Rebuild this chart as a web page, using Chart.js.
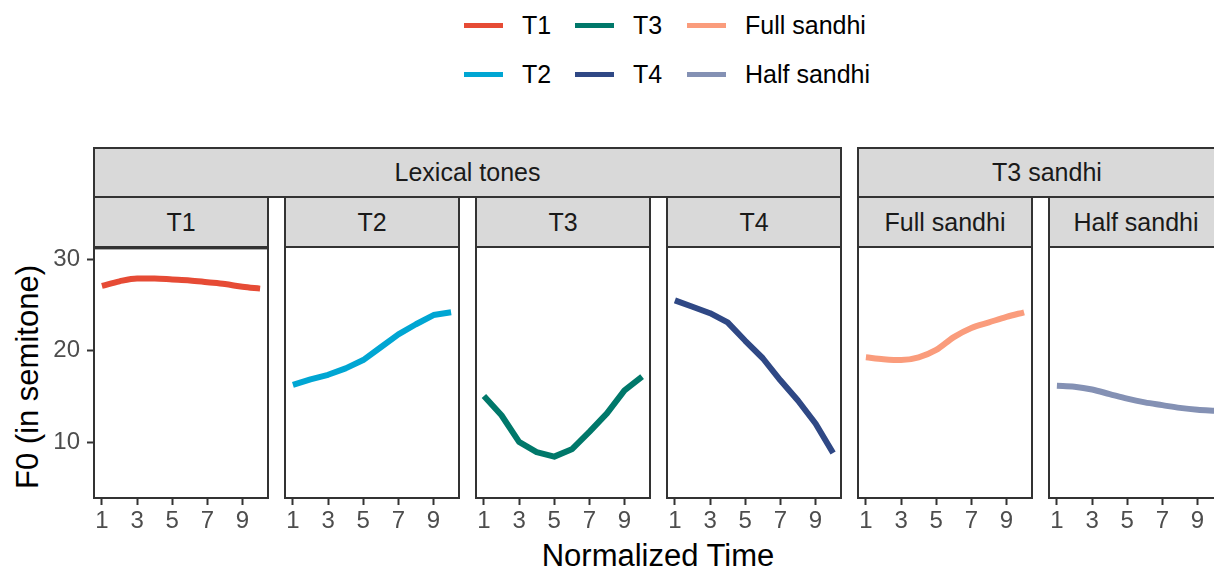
<!DOCTYPE html>
<html>
<head>
<meta charset="utf-8">
<script src="https://cdn.jsdelivr.net/npm/chart.js@4"></script>
<style>
  body { margin: 0; width: 1214px; height: 571px; overflow: hidden; background: #fff;
         position: relative; font-family: "Liberation Sans", Arial, sans-serif; }
  .strip { position: absolute; background: #d9d9d9; border: 2px solid #333; box-sizing: border-box;
           display: flex; align-items: center; justify-content: center; font-size: 25px; color: #1a1a1a; }
  .panel { position: absolute; top: 227px; width: 274px; height: 316px; }
  .legend-item { position: absolute; display: flex; align-items: center; font-size: 25px; color: #000; }
  .legend-item i { display: inline-block; width: 39px; height: 5px; margin-right: 19px; }
  .title { position: absolute; font-size: 31px; color: #000; white-space: nowrap; }
</style>
</head>
<body>

<div class="title" style="left:658px; top:538px; transform:translateX(-50%);">Normalized Time</div>
<div class="title" style="left:28px; top:377px; transform:translate(-50%,-50%) rotate(-90deg);">F0 (in semitone)</div>

<script>
// data
const time = [1, 2, 3, 4, 5, 6, 7, 8, 9, 10];
const T1 = [27.1, 27.6, 27.9, 27.9, 27.8, 27.7, 27.5, 27.3, 27.0, 26.8];
const T2 = [16.2, 16.8, 17.3, 18.0, 18.9, 20.3, 21.7, 22.8, 23.8, 24.1];
const T3 = [15.0, 12.9, 10.0, 8.9, 8.4, 9.2, 11.1, 13.1, 15.6, 17.1];
const T4 = [25.4, 24.7, 24.0, 23.0, 21.0, 19.1, 16.7, 14.5, 12.0, 8.8];
const fullSandhi = [19.2, 19.0, 18.9, 19.2, 20.0, 21.4, 22.4, 23.0, 23.6, 24.1];
const halfSandhi = [16.1, 16.0, 15.7, 15.2, 14.7, 14.3, 14.0, 13.7, 13.5, 13.4];

const seriesNames = ['T1', 'T2', 'T3', 'T4', 'Full sandhi', 'Half sandhi'];
const seriesData = [T1, T2, T3, T4, fullSandhi, halfSandhi];
const groups = ['Lexical tones', 'T3 sandhi'];
const xTicks = [1, 3, 5, 7, 9];
const yTicks = [10, 20, 30];

const colors = ['#E64B35', '#00A6D3', '#00786A', '#2F4885', '#FA9C7C', '#8491B4'];
const smooth = [true, false, false, false, true, true];
const panelLeft = [94, 285, 476, 667, 858, 1049];
const panelW = 174;

// strips
function addStrip(text, left, top, width, height) {
  const d = document.createElement('div');
  d.className = 'strip';
  d.textContent = text;
  d.style.left = left + 'px'; d.style.top = top + 'px';
  d.style.width = width + 'px'; d.style.height = height + 'px';
  document.body.appendChild(d);
}
addStrip(groups[0], 93, 147, 749, 51);
addStrip(groups[1], 857, 147, 380, 51);
seriesNames.forEach((n, i) => addStrip(n, panelLeft[i] - 1, 196, panelW + 2, 52));

// legend (3 columns x 2 rows)
const legX = [464, 575, 687];
const legY = [26, 75];
seriesNames.forEach((n, i) => {
  const d = document.createElement('div');
  d.className = 'legend-item';
  d.style.left = legX[Math.floor(i / 2)] + 'px';
  d.style.top = (legY[i % 2] - 15) + 'px';
  d.innerHTML = '<i style="background:' + colors[i] + '"></i><span>' + n + '</span>';
  document.body.appendChild(d);
});

// panel border
const borderPlugin = {
  id: 'panelBorder',
  afterDraw(chart) {
    const a = chart.chartArea, ctx = chart.ctx;
    ctx.save();
    ctx.strokeStyle = '#333333';
    ctx.lineWidth = 2;
    ctx.strokeRect(a.left, a.top, a.right - a.left, a.bottom - a.top);
    ctx.restore();
  }
};

const tickFont = { family: '"Liberation Sans", Arial, sans-serif', size: 24 };

seriesNames.forEach((name, i) => {
  const wrap = document.createElement('div');
  wrap.className = 'panel';
  wrap.style.left = (panelLeft[i] - 90) + 'px';
  const cv = document.createElement('canvas');
  wrap.appendChild(cv);
  document.body.appendChild(wrap);

  new Chart(cv, {
    type: 'line',
    data: {
      datasets: [{
        label: name,
        data: time.map((t, k) => ({ x: t, y: seriesData[i][k] })),
        borderColor: colors[i],
        borderWidth: 6,
        pointRadius: 0,
        fill: false,
        cubicInterpolationMode: smooth[i] ? 'monotone' : 'default',
        tension: 0,
        borderJoinStyle: 'round'
      }]
    },
    options: {
      responsive: true,
      maintainAspectRatio: false,
      animation: false,
      layout: { padding: { top: 20, right: 10, left: 0, bottom: 0 } },
      plugins: { legend: { display: false }, tooltip: { enabled: false } },
      scales: {
        x: {
          type: 'linear', min: 0.55, max: 10.45,
          afterBuildTicks: s => { s.ticks = xTicks.map(v => ({ value: v })); },
          afterFit: s => { s.height = 45; },
          border: { display: false },
          grid: { drawOnChartArea: false, tickLength: 7, tickColor: '#333333', tickWidth: 2 },
          ticks: { font: tickFont, color: '#4D4D4D', padding: 2, maxRotation: 0 }
        },
        y: {
          min: 3.9, max: 31.2,
          afterBuildTicks: s => { s.ticks = yTicks.map(v => ({ value: v })); },
          afterFit: s => { s.width = 90; },
          border: { display: false },
          grid: { display: i === 0, drawOnChartArea: false, tickLength: 7, tickColor: '#333333', tickWidth: 2 },
          ticks: { display: i === 0, font: tickFont, color: '#4D4D4D', padding: 7 }
        }
      }
    },
    plugins: [borderPlugin]
  });
});
</script>
</body>
</html>
